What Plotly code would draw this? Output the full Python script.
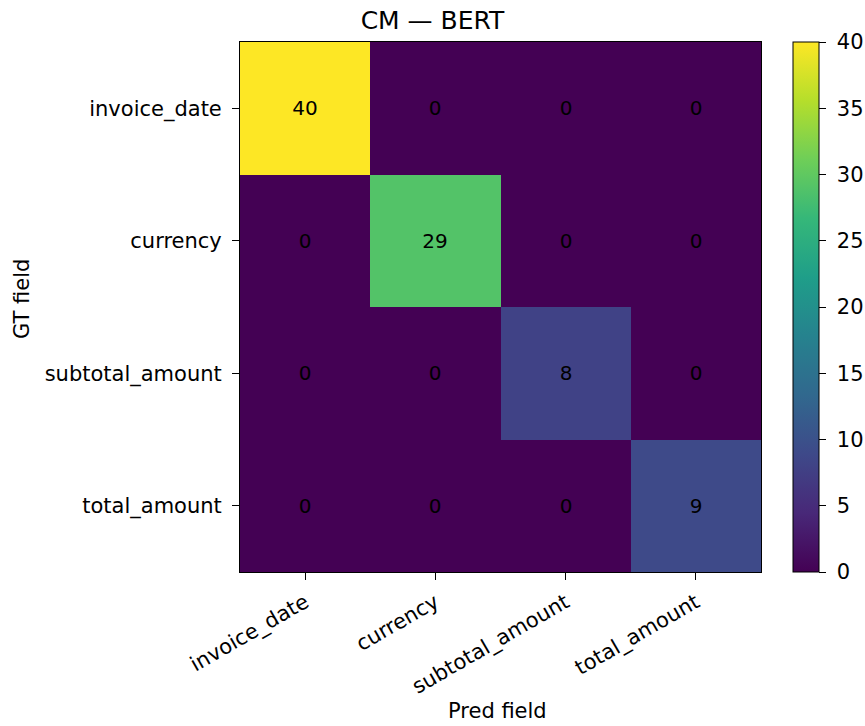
import plotly.graph_objects as go

labels = ["invoice_date", "currency", "subtotal_amount", "total_amount"]
gt_rows = ["invoice_date", "currency", "subtotal_amount", "total_amount"]
counts = [
    [40, 0, 0, 0],
    [0, 29, 0, 0],
    [0, 0, 8, 0],
    [0, 0, 0, 9],
]
cbar_ticks = [0, 5, 10, 15, 20, 25, 30, 35, 40]

W, H = 865, 726
L, R, T, B = 240, 761, 42, 572
FONT = "DejaVu Sans"
pw = R - L
ph = B - T

fig = go.Figure(go.Heatmap(
    z=counts,
    x=labels,
    y=gt_rows,
    zmin=0, zmax=40,
    colorscale="Viridis",
    texttemplate="%{z}",
    textfont=dict(family=FONT, size=20, color="black"),
    hoverinfo="skip",
    colorbar=dict(
        x=(793 - L) / pw, xanchor="left", xref="paper",
        y=0.5, yanchor="middle",
        len=1, lenmode="fraction",
        thickness=26, thicknessmode="pixels",
        xpad=0, ypad=0,
        outlinewidth=1, outlinecolor="black",
        tickmode="array", tickvals=cbar_ticks,
        ticktext=["\u00a0" + str(v) for v in cbar_ticks],
        ticks="outside", ticklen=7, tickwidth=1, tickcolor="black",
        tickfont=dict(family=FONT, size=21, color="black"),
    ),
))

fig.update_layout(
    width=W, height=H,
    margin=dict(l=L, r=W - R, t=T, b=H - B, pad=0, autoexpand=False),
    paper_bgcolor="white", plot_bgcolor="white",
    font=dict(family=FONT, color="black"),
    title=dict(text="CM — BERT", x=0.5, xref="container", xanchor="center",
               y=1 - 20 / H, yanchor="middle", yref="container",
               font=dict(family=FONT, size=25, color="black")),
    xaxis=dict(
        showline=True, linecolor="black", linewidth=1, mirror=True,
        ticks="outside", ticklen=7, tickwidth=1, tickcolor="black",
        tickangle=-30, tickfont=dict(family=FONT, size=21, color="black"),
        ticklabelstandoff=2,
        showgrid=False, zeroline=False, automargin=False,
    ),
    yaxis=dict(
        autorange="reversed",
        showline=True, linecolor="black", linewidth=1, mirror=True,
        ticks="outside", ticklen=7, tickwidth=1, tickcolor="black",
        tickfont=dict(family=FONT, size=21, color="black"),
        ticklabelstandoff=6,
        showgrid=False, zeroline=False, automargin=False,
    ),
    annotations=[
        dict(text="Pred field", xref="paper", yref="paper",
             x=(497 - L) / pw, y=-(711 - B) / ph, xanchor="center", yanchor="middle",
             showarrow=False, font=dict(family=FONT, size=21, color="black")),
        dict(text="GT field", xref="paper", yref="paper",
             x=-(L - 22) / pw, y=1 - (299 - T) / ph, xanchor="center", yanchor="middle",
             textangle=-90, showarrow=False, font=dict(family=FONT, size=21, color="black")),
    ],
)

fig.write_html("out.html")
